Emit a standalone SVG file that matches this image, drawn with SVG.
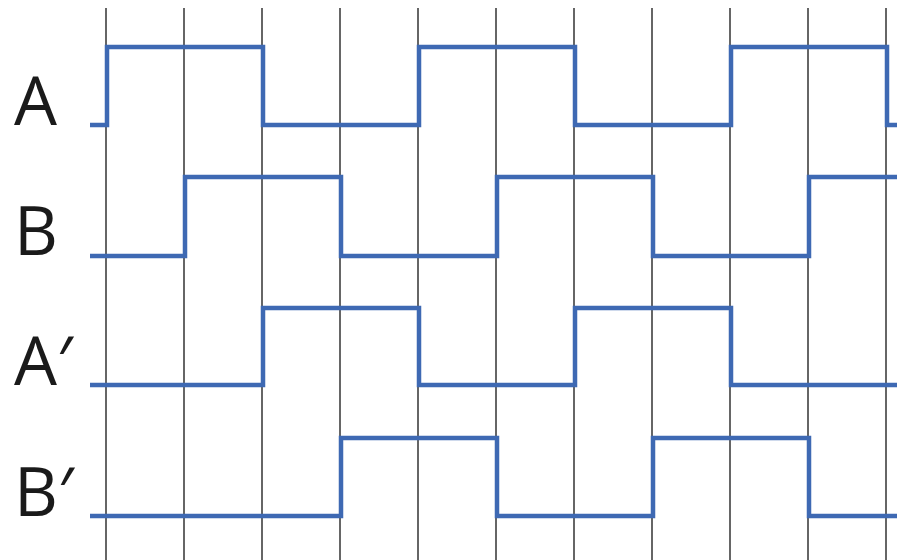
<svg xmlns="http://www.w3.org/2000/svg" width="897" height="560" viewBox="0 0 897 560">
<style>
.grid{stroke:#333;stroke-width:1.5;fill:none}
.sig{stroke:#3e69b3;stroke-width:4.5;fill:none;stroke-linejoin:miter}
.lbl{font-family:"Open Sans","Noto Sans",sans-serif;font-size:68px;fill:#1a1a1a}
</style>
<rect width="897" height="560" fill="#fff"/>
<g id="grid" class="grid">
<line x1="106" y1="8" x2="106" y2="560"/>
<line x1="184" y1="8" x2="184" y2="560"/>
<line x1="262" y1="8" x2="262" y2="560"/>
<line x1="340" y1="8" x2="340" y2="560"/>
<line x1="418" y1="8" x2="418" y2="560"/>
<line x1="496" y1="8" x2="496" y2="560"/>
<line x1="574" y1="8" x2="574" y2="560"/>
<line x1="652" y1="8" x2="652" y2="560"/>
<line x1="730" y1="8" x2="730" y2="560"/>
<line x1="808" y1="8" x2="808" y2="560"/>
<line x1="886" y1="8" x2="886" y2="560"/>
</g>
<g id="signals">
<g id="A"><path class="sig" d="M90 125 H107 V47 H263 V125 H419 V47 H575 V125 H731 V47 H887 V125 H897"/><text class="lbl" x="14" y="125">A</text></g>
<g id="B"><path class="sig" d="M90 256 H185 V177 H341 V256 H497 V177 H653 V256 H809 V177 H897"/><text class="lbl" x="14" y="255">B</text></g>
<g id="Ap"><path class="sig" d="M90 385 H263 V308 H419 V385 H575 V308 H731 V385 H897"/><text class="lbl" x="14" y="385">A′</text></g>
<g id="Bp"><path class="sig" d="M90 516 H341 V438 H497 V516 H653 V438 H809 V516 H897"/><text class="lbl" x="14" y="516">B′</text></g>
</g>
</svg>
